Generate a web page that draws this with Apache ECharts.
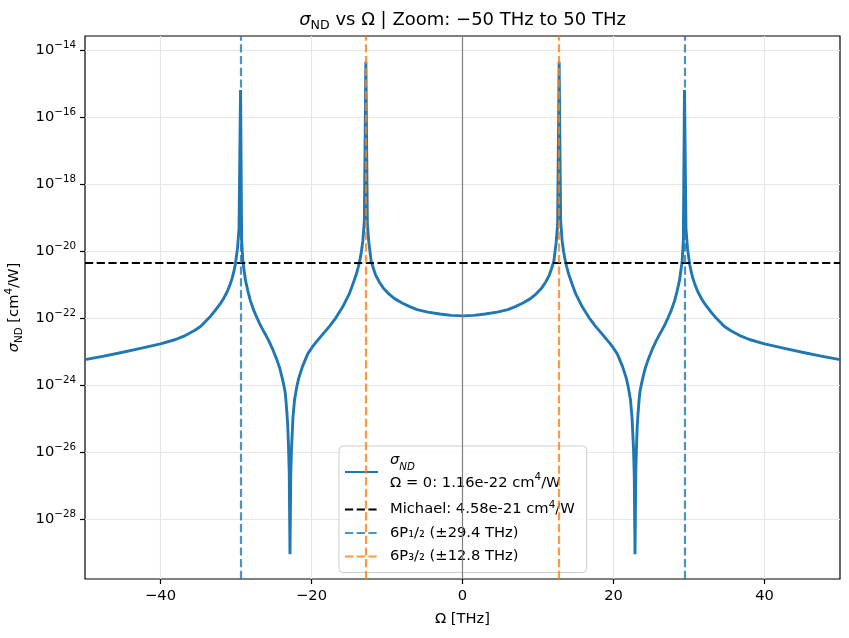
<!DOCTYPE html>
<html>
<head>
<meta charset="utf-8">
<title>sigma_ND vs Omega</title>
<script src="https://cdn.jsdelivr.net/npm/echarts@6/dist/echarts.min.js"></script>
<style>
  html, body { margin: 0; padding: 0; background: #fff; }
  #chart { width: 849px; height: 638px; }
</style>
</head>
<body>
<div id="chart"></div>
<script>
// values, left half only (the curve is symmetric about 0)
const omegaHalf = [
  -50, -47.5, -45, -42.5, -40, -38, -36.9, -35.5, -34.7, -33.4,
  -32.7, -32.1, -31.7, -31.2, -30.8, -30.5, -30.3, -30.1, -29.8, -29.6,
  -29.4, -29.25, -29.1, -28.75, -28.4, -28.1, -27.65, -27.2, -26.8, -26.4,
  -26.0, -25.65, -25.1, -24.55, -24.2, -23.9, -23.7, -23.5, -23.4, -23.25,
  -23.15, -23.05, -22.95, -22.85, -22.75, -22.65, -22.45, -22.25, -21.95, -21.7,
  -21.2, -20.5, -20.0, -19.5, -18.5, -17.6, -16.8, -15.9, -15.0, -14.5,
  -14.05, -13.8, -13.6, -13.4, -13.2, -13.0, -12.8, -12.6, -12.4, -12.1,
  -11.8, -11.5, -11.0, -10.5, -9.8, -9.0, -8.0, -7.0, -6.0, -4.6,
  -3.0, -1.5, 0];
const sigmaHalf = [
  5.75e-24, 7.33e-24, 9.55e-24, 1.26e-23, 1.70e-23, 2.29e-23, 2.88e-23, 4.27e-23, 5.62e-23, 1.12e-22,
  1.74e-22, 2.63e-22, 3.63e-22, 5.89e-22, 9.77e-22, 1.58e-21, 2.34e-21, 3.89e-21, 1.20e-20, 4.79e-20,
  6.46e-16, 2.04e-20, 5.13e-21, 1.35e-21, 6.03e-22, 3.31e-22, 1.70e-22, 1.0e-22, 6.31e-23, 4.27e-23,
  2.95e-23, 2.09e-23, 1.12e-23, 5.37e-24, 3.16e-24, 1.70e-24, 1.07e-24, 6.31e-25, 3.80e-25, 1.41e-25,
  6.31e-26, 1.58e-26, 2.51e-27, 8.9e-30, 2.0e-27, 1.26e-26, 1.12e-25, 3.55e-25, 8.91e-25, 1.58e-24,
  3.55e-24, 8.51e-24, 1.26e-23, 1.78e-23, 3.31e-23, 5.75e-23, 1.0e-22, 2.09e-22, 5.25e-22, 1.05e-21,
  2.09e-21, 3.39e-21, 5.25e-21, 9.33e-21, 2.0e-20, 7.94e-20, 4.47e-15, 6.31e-20, 1.78e-20, 5.01e-21,
  3.02e-21, 1.91e-21, 1.17e-21, 7.94e-22, 5.37e-22, 3.80e-22, 2.82e-22, 2.19e-22, 1.78e-22, 1.51e-22,
  1.32e-22, 1.20e-22, 1.16e-22];

const sigmaZero = 1.16e-22;
const sigmaMichael = 4.58e-21;
const line12 = 29.4;   // 6P1/2
const line32 = 12.8;   // 6P3/2

const xTicks = [-40, -20, 0, 20, 40];
const yTickExp = [-28, -26, -24, -22, -20, -18, -16, -14];
const xRange = [-50, 50];
const yRangeExp = [-29.79, -13.58];

const font = 'DejaVu Sans';
const blue = '#1f77b4';
const fs = 14.7;
const fsSmall = 10.3;

// mirror the half sweep to get the full curve, plot in log10 space
const omega = omegaHalf.concat(omegaHalf.slice(0, -1).reverse().map(w => -w));
const sigma = sigmaHalf.concat(sigmaHalf.slice(0, -1).reverse());
const curve = omega.map((w, i) => [w, Math.log10(sigma[i])]);

const minus = v => String(v).replace('-', '\u2212');

const legendLabels = {
  sigma: '{it|\u03c3}{itsub|ND}\n{t|\u03a9 = 0: ' + sigmaZero.toExponential(2) + ' cm}{tsup|4}{t|/W}',
  michael: 'Michael: ' + sigmaMichael.toExponential(2) + ' cm{sup|4}/W',
  p12: '6P\u2081/\u2082 (\u00b1' + line12 + ' THz)',
  p32: '6P\u2083/\u2082 (\u00b1' + line32 + ' THz)'
};

const dashed = [8.2, 3.5];

function vline(name, color, xs) {
  return {
    name: name, type: 'line', data: [], symbol: 'none', z: 4,
    itemStyle: { color: color },
    lineStyle: { color: color, width: 2.2, type: dashed },
    markLine: {
      silent: true, symbol: ['none', 'none'], animation: false,
      label: { show: false }, emphasis: { disabled: true },
      lineStyle: { color: color, width: 2.2, type: dashed },
      data: xs.map(x => ({ xAxis: x }))
    }
  };
}

const chart = echarts.init(document.getElementById('chart'), null, { renderer: 'canvas' });

const option = {
  animation: false,
  backgroundColor: '#fff',
  textStyle: { fontFamily: font },
  title: {
    text: '{it|\u03c3}{sub|ND}{t| vs \u03a9 | Zoom: \u221250 THz to 50 THz}',
    left: 462.5, top: 8, padding: 0, textAlign: 'center', textVerticalAlign: 'top',
    textStyle: {
      fontFamily: font, fontWeight: 'normal', color: '#000',
      rich: {
        it: { fontFamily: font, fontStyle: 'italic', fontSize: 18, lineHeight: 24, color: '#000' },
        sub: { fontFamily: font, fontSize: 12.6, lineHeight: 14, verticalAlign: 'bottom', color: '#000' },
        t: { fontFamily: font, fontSize: 18, lineHeight: 24, color: '#000' }
      }
    }
  },
  grid: {
    left: 85, top: 36, right: 9, bottom: 59,
    show: true, borderColor: '#000', borderWidth: 1.2, backgroundColor: 'transparent',
    containLabel: false, outerBoundsMode: 'none'
  },
  legend: {
    data: ['sigma', 'michael', 'p12', 'p32'],
    orient: 'vertical', left: 339, top: 446,
    padding: [3, 12, 7, 5],
    itemWidth: 33, itemHeight: 14, itemGap: 5.5,
    backgroundColor: 'rgba(255,255,255,0.8)', borderColor: '#cccccc', borderWidth: 1, borderRadius: 4,
    selectedMode: false,
    itemStyle: { opacity: 0 },
    formatter: name => legendLabels[name],
    textStyle: {
      fontFamily: font, fontSize: fs, color: '#000', lineHeight: 18, padding: [0, 0, 0, 7],
      rich: {
        it: { fontFamily: font, fontStyle: 'italic', fontSize: fs, lineHeight: 23 },
        itsub: { fontFamily: font, fontStyle: 'italic', fontSize: fsSmall, lineHeight: 15, verticalAlign: 'bottom' },
        t: { fontFamily: font, fontSize: fs, lineHeight: 23 },
        tsup: { fontFamily: font, fontSize: fsSmall, lineHeight: 17, verticalAlign: 'top' },
        sup: { fontFamily: font, fontSize: fsSmall, lineHeight: 12, verticalAlign: 'top' }
      }
    }
  },
  xAxis: {
    type: 'value', min: xRange[0], max: xRange[1],
    axisLine: { show: false, onZero: false },
    axisTick: { show: true, length: 5, lineStyle: { color: '#000', width: 1.2 }, customValues: xTicks },
    axisLabel: {
      customValues: xTicks, margin: 10, color: '#000', fontFamily: font, fontSize: fs,
      formatter: v => minus(v)
    },
    splitLine: { show: true, lineStyle: { color: '#e6e6e6', width: 1.2 } },
    name: '\u03a9 [THz]', nameLocation: 'middle', nameGap: 33,
    nameTextStyle: { fontFamily: font, fontSize: fs, color: '#000' }
  },
  yAxis: {
    type: 'value', min: yRangeExp[0], max: yRangeExp[1],
    axisLine: { show: false, onZero: false },
    axisTick: { show: true, length: 5, lineStyle: { color: '#000', width: 1.2 }, customValues: yTickExp },
    axisLabel: {
      customValues: yTickExp, margin: 9, color: '#000',
      formatter: v => '{b|10}{e|' + minus(v) + '}',
      rich: {
        b: { fontFamily: font, fontSize: fs, lineHeight: 20, color: '#000' },
        e: { fontFamily: font, fontSize: fsSmall, lineHeight: 8, verticalAlign: 'top', color: '#000' }
      }
    },
    splitLine: { show: true, lineStyle: { color: '#e6e6e6', width: 1.2 } },
    name: '{it|\u03c3}{sub|ND}{t| [cm}{sup|4}{t|/W]}',
    nameLocation: 'middle', nameGap: 61,
    nameTextStyle: {
      color: '#000',
      rich: {
        it: { fontFamily: font, fontStyle: 'italic', fontSize: fs, lineHeight: 20, color: '#000' },
        sub: { fontFamily: font, fontSize: fsSmall, lineHeight: 12, verticalAlign: 'bottom', color: '#000' },
        t: { fontFamily: font, fontSize: fs, lineHeight: 20, color: '#000' },
        sup: { fontFamily: font, fontSize: fsSmall, lineHeight: 13, verticalAlign: 'top', color: '#000' }
      }
    }
  },
  series: [
    {
      name: 'zero', type: 'line', data: [], symbol: 'none', z: 1,
      markLine: {
        silent: true, symbol: ['none', 'none'], animation: false,
        label: { show: false }, emphasis: { disabled: true },
        lineStyle: { color: '#808080', width: 1.2, type: 'solid' },
        data: [{ xAxis: 0 }]
      }
    },
    {
      name: 'sigma', type: 'line', data: curve, symbol: 'none', showSymbol: false,
      smooth: false, sampling: null, z: 2, clip: true,
      itemStyle: { color: blue },
      lineStyle: { color: blue, width: 2.9 }
    },
    {
      name: 'michael', type: 'line', data: [], symbol: 'none', z: 3,
      itemStyle: { color: '#000' },
      lineStyle: { color: '#000', width: 2.2, type: dashed },
      markLine: {
        silent: true, symbol: ['none', 'none'], animation: false,
        label: { show: false }, emphasis: { disabled: true },
        lineStyle: { color: '#000', width: 2.2, type: dashed },
        data: [{ yAxis: Math.log10(sigmaMichael) }]
      }
    },
    vline('p12', 'rgba(31,119,180,0.8)', [-line12, line12]),
    vline('p32', 'rgba(255,127,14,0.8)', [-line32, line32])
  ]
};

chart.setOption(option);

window.addEventListener('resize', () => {
  chart.resize();
});
</script>
</body>
</html>
